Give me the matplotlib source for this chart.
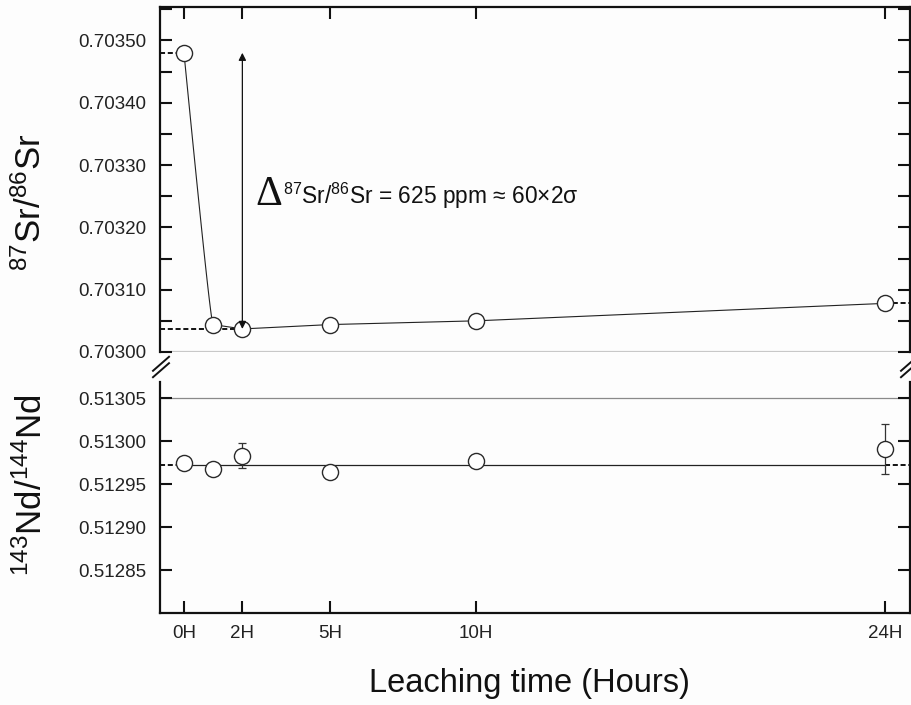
import numpy as np
import matplotlib
matplotlib.use("Agg")
import matplotlib.pyplot as plt
from matplotlib.lines import Line2D

plt.rcParams['font.family'] = ['Liberation Sans', 'DejaVu Sans']
plt.rcParams['mathtext.fontset'] = 'custom'
plt.rcParams['mathtext.rm'] = 'Liberation Sans'
plt.rcParams['mathtext.it'] = 'Liberation Sans:italic'

# ---- data ----
hours = [0, 1, 2, 5, 10, 24]
sr_ratio = [0.703480, 0.703044, 0.703037, 0.703044, 0.703050, 0.703078]
nd_ratio = [0.512974, 0.512968, 0.512983, 0.512964, 0.512977, 0.512991]
nd_err = [0.0, 0.0, 0.0000145, 0.0, 0.0, 0.000029]
nd_reference = 0.512972
xtick_pos = [0, 2, 5, 10, 24]
xtick_labels = ['0H', '2H', '5H', '10H', '24H']
sr_ticks = [0.70300, 0.70310, 0.70320, 0.70330, 0.70340, 0.70350]
nd_ticks = [0.51285, 0.51290, 0.51295, 0.51300, 0.51305]

BG = '#fdfdfd'
INK = '#111111'
fig = plt.figure(figsize=(9.12, 7.05), dpi=100, facecolor=BG)
W_PX, H_PX = 912, 705

def fig_rect(l, t, r, b):
    return [l / W_PX, 1 - b / H_PX, (r - l) / W_PX, (b - t) / H_PX]

ax1 = fig.add_axes(fig_rect(160, 7.3, 910, 352))
ax2 = fig.add_axes(fig_rect(160, 381.7, 910, 613))
xlim = (-0.82, 24.86)

for ax in (ax1, ax2):
    ax.set_facecolor(BG)
    ax.set_xlim(*xlim)
    for s in ax.spines.values():
        s.set_linewidth(1.6)
        s.set_color(INK)
    ax.tick_params(which='both', direction='in', length=8.6, width=1.5,
                   color=INK, labelsize=13.5, labelcolor='#222222', pad=10)
    ax.set_xticks(xtick_pos)

# ---- top panel ----
ax1.spines['bottom'].set_visible(False)
ax1.set_ylim(0.70300, 0.703553)
ax1.set_yticks(sr_ticks)
ax1.set_yticklabels([f'{v:.5f}' for v in sr_ticks])
ax1.set_yticks(np.arange(0.70305, 0.70355, 0.0001), minor=True)
ax1.tick_params(axis='x', which='both', top=True, bottom=False,
                labeltop=False, labelbottom=False)
ax1.tick_params(axis='y', which='both', left=True, right=True)
ax1.axhline(0.70300, color='#c8c8c8', lw=1.6, zorder=1)

# smooth drop 0H -> 1H (cubic Bezier built from the two data points)
t = np.linspace(0, 1, 80)
x0, x1 = hours[0], hours[1]
y0, y1 = sr_ratio[0], sr_ratio[1]
px = [x0, x0 + 0.55 * (x1 - x0), x0 + 0.93 * (x1 - x0), x1]
py = [y0, y0 + 0.6 * (y1 - y0), y1, y1]
bern = [(1 - t) ** 3, 3 * t * (1 - t) ** 2, 3 * t ** 2 * (1 - t), t ** 3]
bx = sum(b * p for b, p in zip(bern, px))
by = sum(b * p for b, p in zip(bern, py))
ax1.plot(bx, by, color='#222222', lw=0.8, zorder=2)
ax1.plot(hours[1:], sr_ratio[1:], color='#222222', lw=0.8, zorder=2)

dash_kw = dict(color=INK, lw=1.4, dashes=(2.6, 1.4), zorder=2, clip_on=False)
ax1.plot([xlim[0], hours[0]], [sr_ratio[0]] * 2, **dash_kw)
ax1.plot([xlim[0], hours[2]], [sr_ratio[2]] * 2, **dash_kw)
ax1.plot([hours[-1], xlim[1]], [sr_ratio[-1]] * 2, **dash_kw)

ax1.plot(hours, sr_ratio, 'o', ms=11.6, mfc='white', mec='#2a2a2a', mew=1.0, zorder=3)

ax1.annotate('', xy=(hours[2], sr_ratio[0]), xytext=(hours[2], sr_ratio[2]),
             arrowprops=dict(arrowstyle='<|-|>', color=INK, lw=0.9,
                             shrinkA=0, shrinkB=0, mutation_scale=11), zorder=4)
ax1.text(2.43, 0.703236, 'Δ', family=['Liberation Serif'], fontsize=30,
         va='baseline', ha='left', color=INK)
ax1.text(3.38, 0.703237, r'$^{87}$Sr/$^{86}$Sr = 625 ppm ≈ 60×2σ', fontsize=16.4,
         va='baseline', ha='left', color=INK)

# ---- bottom panel ----
ax2.spines['top'].set_visible(False)
ax2.set_ylim(0.51280, 0.513069)
ax2.set_yticks(nd_ticks)
ax2.set_yticklabels([f'{v:.5f}' for v in nd_ticks])
ax2.set_xticklabels(xtick_labels)
ax2.tick_params(axis='x', top=False, bottom=True, pad=8.5)
ax2.tick_params(axis='y', left=True, right=True)
ax2.axhline(0.51305, color='#8a8a8a', lw=0.9, zorder=1)

ax2.plot([hours[0], hours[-1]], [nd_reference] * 2, color='#222222', lw=0.9, zorder=2)
ax2.plot([xlim[0], hours[0]], [nd_reference] * 2, **dash_kw)
ax2.plot([hours[-1], xlim[1]], [nd_reference] * 2, **dash_kw)

for h, v, e in zip(hours, nd_ratio, nd_err):
    if e > 0:
        ax2.errorbar(h, v, yerr=e, fmt='none', ecolor='#333333', elinewidth=0.9,
                     capsize=3.2, capthick=0.9, zorder=2.5)
ax2.plot(hours, nd_ratio, 'o', ms=11.6, mfc='white', mec='#2a2a2a', mew=1.0, zorder=3)

# ---- labels ----
fig.text(31 / W_PX, 1 - 202 / H_PX, r'$^{87}$Sr/$^{86}$Sr', rotation=90,
         fontsize=25, ha='center', va='center', color=INK)
fig.text(31.5 / W_PX, 1 - 485 / H_PX, r'$^{143}$Nd/$^{144}$Nd', rotation=90,
         fontsize=25, ha='center', va='center', color=INK)
fig.text(529 / W_PX, 1 - 683.5 / H_PX, 'Leaching time (Hours)', fontsize=23.5,
         ha='center', va='center', color=INK)

# ---- axis break marks ----
def break_mark(cx_px, cy_px):
    for off in (-3.2, 3.2):
        xs = [(cx_px - 8) / W_PX, (cx_px + 8) / W_PX]
        ys = [1 - (cy_px + off + 7) / H_PX, 1 - (cy_px + off - 7) / H_PX]
        fig.add_artist(Line2D(xs, ys, transform=fig.transFigure, color=INK, lw=1.4))

break_mark(161, 367)
break_mark(909, 367)

fig.savefig('out.png', dpi=100, facecolor=BG)
